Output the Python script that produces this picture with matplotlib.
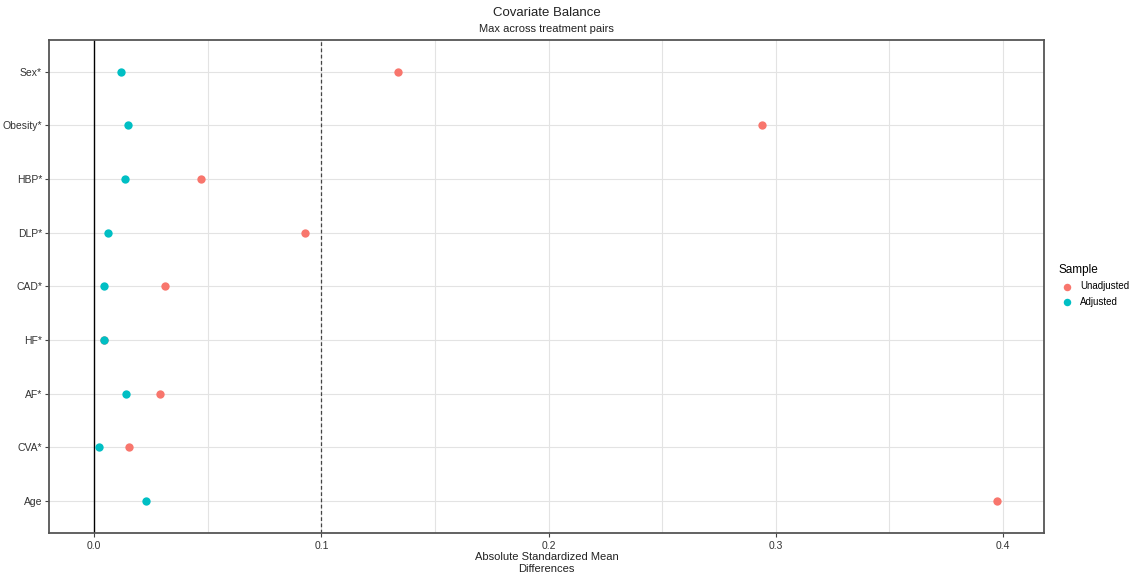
import matplotlib.pyplot as plt
import numpy as np

plt.rcParams['font.family'] = ['Liberation Sans', 'DejaVu Sans']

# covariates, top to bottom
covariates = ["Sex*", "Obesity*", "HBP*", "DLP*", "CAD*", "HF*", "AF*", "CVA*", "Age"]
unadjusted = [0.1335, 0.294, 0.0472, 0.0926, 0.0311, 0.0042, 0.029, 0.0151, 0.3974]
adjusted = [0.0118, 0.0147, 0.0137, 0.006, 0.0043, 0.0044, 0.0141, 0.0021, 0.0229]
xticks = [0.0, 0.1, 0.2, 0.3, 0.4]
xticklabels = ["0.0", "0.1", "0.2", "0.3", "0.4"]

col_un = '#F8766D'
col_adj = '#00BFC4'
grid_col = '#E3E3E3'

W, H = 1135, 578
fig = plt.figure(figsize=(W / 100, H / 100), dpi=100)
ax = fig.add_axes([49/W, 1-533/H, (1044-49)/W, (533-39.5)/H])

n = len(covariates)
ypos = np.arange(n, 0, -1)

# grid: major + minor verticals, horizontal per category
for v in np.arange(0.05, 0.45, 0.05):
    ax.axvline(v, color=grid_col, lw=0.8, zorder=0)
for y in ypos:
    ax.axhline(y, color=grid_col, lw=0.8, zorder=0)

ax.axvline(0, color='black', lw=1.0, zorder=1)
ax.axvline(0.1, color='#444444', lw=0.9, ls=(0, (3, 2)), zorder=1)

ax.scatter(unadjusted, ypos, s=36, color=col_un, zorder=3, label='Unadjusted', linewidths=0)
ax.scatter(adjusted, ypos, s=36, color=col_adj, zorder=4, label='Adjusted', linewidths=0)

ax.set_xlim(-0.0199, 0.418)
ax.set_ylim(0.4, n + 0.6)
ax.set_yticks(ypos)
ax.set_yticklabels(covariates)
ax.set_xticks(xticks)
ax.set_xticklabels(xticklabels)
ax.tick_params(axis='both', labelsize=7.5, colors='#444444', length=3, width=0.8, labelcolor='#333333')
ax.tick_params(axis='x', pad=3)
ax.tick_params(axis='y', pad=2)

for s in ax.spines.values():
    s.set_color('#555555')
    s.set_linewidth(1.3)

cx = 0.5 * (49 + 1044) / W
fig.text(cx, 1 - 557/H, "Absolute Standardized Mean", ha='center', va='center', fontsize=8, color='#222222')
fig.text(cx, 1 - 569/H, "Differences", ha='center', va='center', fontsize=8, color='#222222')

fig.text(cx, 1 - 13/H, "Covariate Balance", ha='center', va='center', fontsize=9.5, color='#222222')
fig.text(cx, 1 - 29/H, "Max across treatment pairs", ha='center', va='center', fontsize=8, color='#222222')

# legend
leg = ax.legend(title='Sample', loc='upper left', bbox_to_anchor=(1057/W, 1-262/H),
                bbox_transform=fig.transFigure, frameon=False, borderpad=0.2,
                fontsize=7, title_fontsize=8.5, handlelength=1.6, handletextpad=0.6,
                borderaxespad=0.0, labelspacing=0.55, markerscale=0.9)
leg._legend_box.align = 'left'

fig.savefig('out.png', dpi=100)
